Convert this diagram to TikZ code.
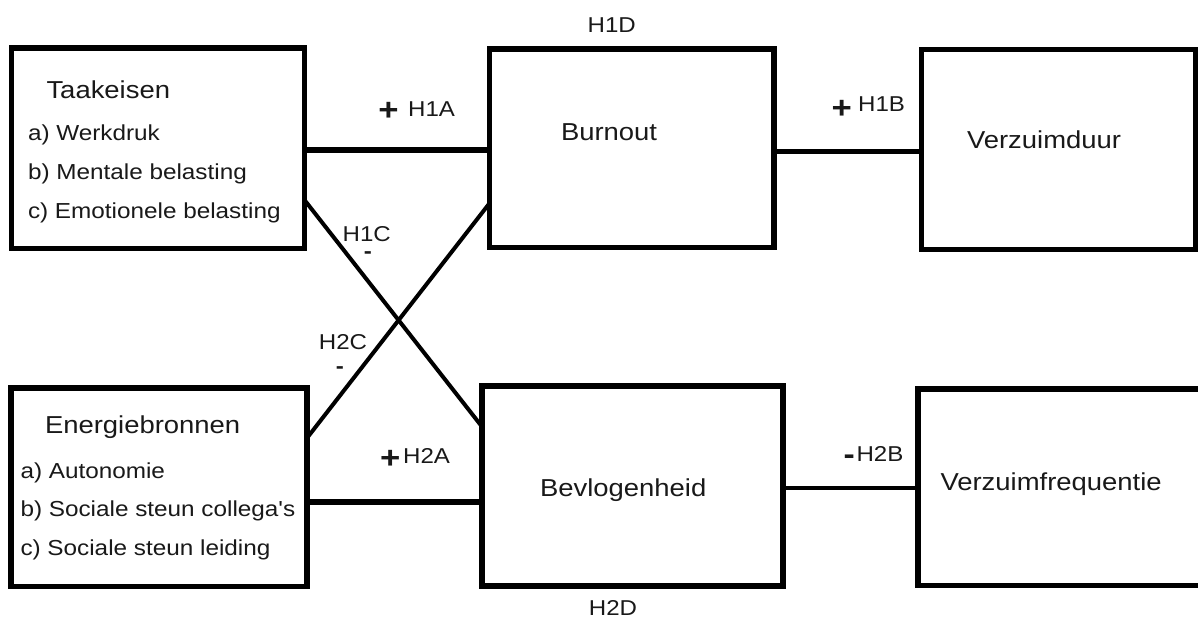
\documentclass[tikz,border=0pt]{standalone}
\usepackage{fontspec}
\setmainfont{Liberation Sans}[FakeStretch=1.12, Ligatures=TeXOff]
\newcommand{\bigsign}[3]{\raisebox{#2pt}{\fontsize{#1}{#1}\selectfont\bfseries #3}}
\begin{document}
\begin{tikzpicture}[x=1pt,y=-1pt,
  box/.style={draw=black, line width=5.5pt, inner sep=0pt, outer sep=0pt},
  txt/.style={inner sep=0pt, outer sep=0pt, anchor=base west, text=black!90},
  ttl/.style={txt, font=\fontsize{24.5}{28}\selectfont},
  itm/.style={txt, font=\fontsize{21.7}{26}\selectfont},
  lbl/.style={inner sep=0pt, outer sep=0pt, text=black!90, font=\fontsize{21.5}{26}\selectfont},
  thick link/.style={line width=6pt},
  thin link/.style={line width=4.5pt},
  cross/.style={line width=4pt}]
\useasboundingbox (0,0) rectangle (1198,618);
\fill[white] (0,0) rectangle (1198,618);

% boxes
\node[box, minimum width=293pt, minimum height=200.5pt] (T) at (158,148.25) {};
\node[box, minimum width=284.5pt, minimum height=198.5pt] (B) at (631.75,148.25) {};
\node[box, minimum width=274pt, minimum height=200.2pt] (V) at (1058.5,149.6) {};
\node[box, minimum width=296pt, minimum height=198.5pt] (E) at (159,487.25) {};
\node[box, minimum width=301pt, minimum height=200pt] (Bev) at (632.5,486) {};
\node[inner sep=0pt, outer sep=0pt, minimum width=280pt, minimum height=196.5pt] (F) at (1058,487.25) {};
\draw[line width=5.5pt] (F.north east) -- (F.north west) -- (F.south west) -- (F.south east);

% box texts
\node[ttl] (t0) at (46.5,98) {Taakeisen};
\node[itm] (t1) at (28,140) {a) Werkdruk};
\node[itm] (t2) at (28,179) {b) Mentale belasting};
\node[itm] (t3) at (28,218) {c) Emotionele belasting};
\node[ttl] (bt) at (561,140) {Burnout};
\node[ttl] (vt) at (967,148) {Verzuimduur};
\node[ttl] (e0) at (45,433) {Energiebronnen};
\node[itm] (e1) at (20.5,478) {a) Autonomie};
\node[itm] (e2) at (20.5,516.7) {b) Sociale steun collega's};
\node[itm] (e3) at (20.5,555) {c) Sociale steun leiding};
\node[ttl] (bevt) at (540,496.7) {Bevlogenheid};
\node[ttl] (ft) at (940.5,490) {Verzuimfrequentie};

% connectors
\draw[thick link] ([yshift=-1.25pt]T.east) -- ([yshift=-1.25pt]T.east -| B.west);
\draw[thin link] ([yshift=-3.25pt]B.east) -- ([yshift=-3.25pt]B.east -| V.west);
\draw[thick link] ([yshift=-14.45pt]E.east) -- ([yshift=-14.45pt]E.east -| Bev.west);
\draw[thin link] ([yshift=-2pt]Bev.east) -- ([yshift=-2pt]Bev.east -| F.west);
\draw[cross] ([yshift=-51.75pt]T.east) -- ([yshift=59.3pt]Bev.west);
\draw[cross] ([yshift=49.25pt]E.east) -- ([yshift=-55pt]B.west);

% labels
\node[lbl, anchor=base west] (h1a) at (378.3,116.7) {\bigsign{31}{-3.3}{+}\hspace{9.6pt}H1A};
\node[lbl, anchor=base west] (h1b) at (831.6,111.7) {\bigsign{31}{-6.3}{+}\hspace{6.3pt}H1B};
\node[lbl, anchor=base west] (h2a) at (380,463.3) {\bigsign{31}{-5.5}{+}\hspace{2.9pt}H2A};
\node[lbl, anchor=base west] (h2b) at (843.7,461.7) {\bigsign{30}{-2.4}{-}\hspace{1.6pt}H2B};
\node[lbl, anchor=base] (h1d) at (611.7,33) {H1D};
\node[lbl, anchor=base] (h2d) at (613,615) {H2D};
\node[lbl, anchor=north, align=center, font=\fontsize{21.5}{17.3}\selectfont] (h1c) at (366.7,226.3) {H1C\\\hspace*{2.6pt}\textbf{-}};
\node[lbl, anchor=north, align=center, font=\fontsize{21.5}{23.7}\selectfont] (h2c) at (343,334.6) {H2C\\\textbf{-}\hspace*{6pt}};
\end{tikzpicture}
\end{document}
